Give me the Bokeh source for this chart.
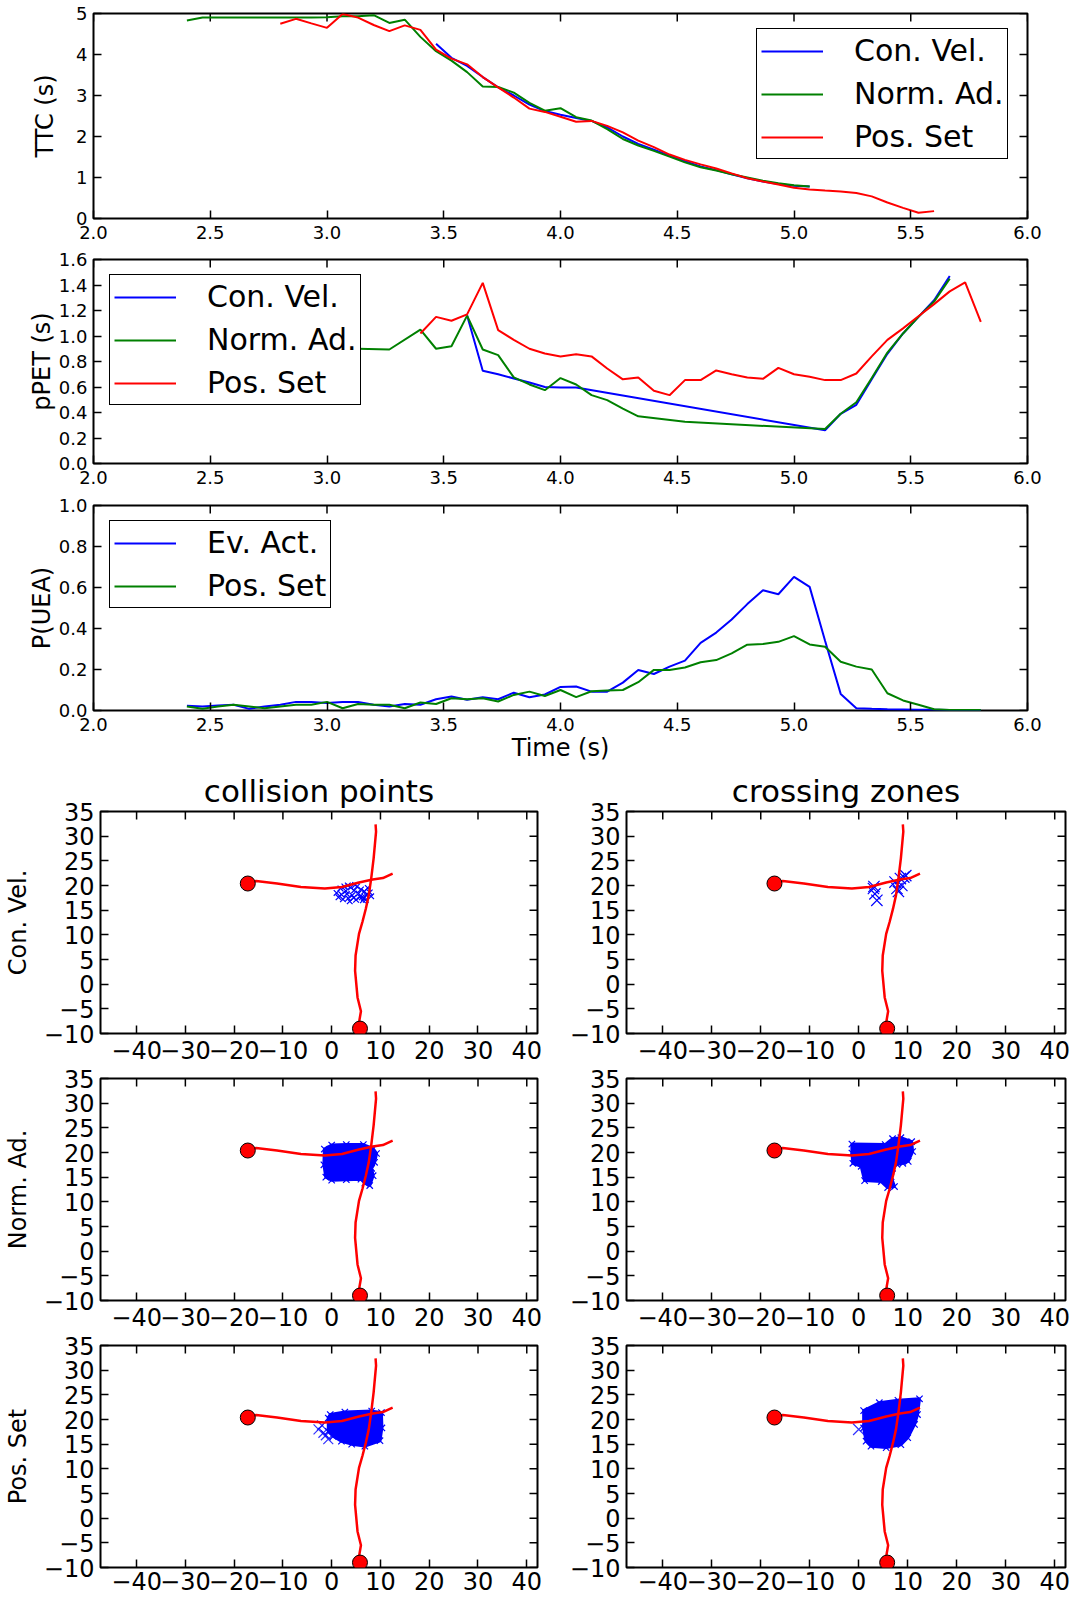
import math
from bokeh.plotting import figure
from bokeh.layouts import column, row
from bokeh.models import FixedTicker, Legend, LegendItem, Range1d
from bokeh.embed import file_html
from bokeh.resources import INLINE

FONT = "DejaVu Sans"
BLUE, GREEN, RED = "#0000ff", "#008000", "#ff0000"

# ---------------- data: TTC ----------------
ttc_t_norm = [2.4, 2.467, 2.533, 2.6, 2.667, 2.733, 2.8, 2.867, 2.933, 3.0, 3.067, 3.133, 3.2, 3.267,
              3.333, 3.4, 3.467, 3.533, 3.6, 3.667, 3.733, 3.8, 3.867, 3.933, 4.0, 4.067, 4.133, 4.2,
              4.267, 4.333, 4.4, 4.467, 4.533, 4.6, 4.667, 4.733, 4.8, 4.867, 4.933, 5.0, 5.067]
ttc_norm = [4.83, 4.90, 4.90, 4.90, 4.90, 4.90, 4.90, 4.90, 4.90, 4.91, 4.93, 4.93, 4.96, 4.77, 4.85,
            4.43, 4.08, 3.85, 3.57, 3.22, 3.21, 3.07, 2.82, 2.63, 2.69, 2.47, 2.39, 2.18, 1.94, 1.78,
            1.65, 1.51, 1.37, 1.25, 1.17, 1.08, 1.0, 0.92, 0.86, 0.81, 0.78]
ttc_t_con = [3.467, 3.533, 3.6, 3.667, 3.733, 3.8, 3.867, 3.933, 4.0, 4.067, 4.133, 4.2, 4.267, 4.333,
             4.4, 4.467, 4.533, 4.6, 4.667, 4.733, 4.8, 4.867, 4.933, 5.0, 5.067]
ttc_con = [4.26, 3.92, 3.72, 3.45, 3.2, 3.0, 2.78, 2.62, 2.53, 2.45, 2.38, 2.22, 2.0, 1.82, 1.68, 1.53,
           1.4, 1.27, 1.18, 1.08, 0.98, 0.9, 0.84, 0.8, 0.78]
ttc_t_pos = [2.8, 2.867, 2.933, 3.0, 3.067, 3.133, 3.2, 3.267, 3.333, 3.4, 3.467, 3.533, 3.6, 3.667,
             3.733, 3.8, 3.867, 3.933, 4.0, 4.067, 4.133, 4.2, 4.267, 4.333, 4.4, 4.467, 4.533, 4.6,
             4.667, 4.733, 4.8, 4.867, 4.933, 5.0, 5.067, 5.133, 5.2, 5.267, 5.333, 5.4, 5.467, 5.533, 5.6]
ttc_pos = [4.75, 4.87, 4.76, 4.65, 4.99, 4.9, 4.72, 4.57, 4.71, 4.6, 4.12, 3.9, 3.76, 3.45, 3.2, 2.95,
           2.68, 2.6, 2.48, 2.36, 2.38, 2.26, 2.1, 1.9, 1.74, 1.56, 1.43, 1.32, 1.22, 1.1, 0.98, 0.9,
           0.83, 0.75, 0.71, 0.68, 0.66, 0.62, 0.54, 0.39, 0.26, 0.14, 0.18]

# ---------------- data: pPET ----------------
pet_t_con = [3.6, 3.667, 3.733, 3.8, 3.867, 3.933, 4.0, 4.067, 5.133, 5.2, 5.267, 5.333, 5.4, 5.467,
             5.533, 5.6, 5.667]
pet_con = [1.16, 0.727, 0.70, 0.667, 0.635, 0.60, 0.596, 0.596, 0.26, 0.39, 0.46, 0.66, 0.86, 1.02,
           1.15, 1.28, 1.47]
pet_t_norm = [3.133, 3.267, 3.4, 3.467, 3.533, 3.6, 3.667, 3.733, 3.8, 3.867, 3.933, 4.0, 4.067, 4.133,
              4.2, 4.267, 4.333, 4.533, 5.133, 5.2, 5.267, 5.333, 5.4, 5.467, 5.533, 5.6, 5.667]
pet_norm = [0.90, 0.894, 1.05, 0.90, 0.92, 1.16, 0.894, 0.85, 0.675, 0.62, 0.575, 0.67, 0.62, 0.536,
            0.497, 0.43, 0.37, 0.327, 0.27, 0.39, 0.48, 0.67, 0.87, 1.02, 1.15, 1.27, 1.45]
pet_t_pos = [3.4, 3.467, 3.533, 3.6, 3.667, 3.733, 3.8, 3.867, 3.933, 4.0, 4.067, 4.133, 4.2, 4.267,
             4.333, 4.4, 4.467, 4.533, 4.6, 4.667, 4.733, 4.8, 4.867, 4.933, 5.0, 5.067, 5.133, 5.2,
             5.267, 5.333, 5.4, 5.467, 5.533, 5.6, 5.667, 5.733, 5.8]
pet_pos = [1.02, 1.15, 1.12, 1.17, 1.417, 1.046, 0.97, 0.90, 0.863, 0.84, 0.857, 0.84, 0.745, 0.66,
           0.675, 0.57, 0.536, 0.654, 0.654, 0.73, 0.70, 0.675, 0.664, 0.75, 0.70, 0.68, 0.654, 0.654,
           0.706, 0.84, 0.97, 1.06, 1.155, 1.25, 1.35, 1.42, 1.11]

# ---------------- data: P(UEA) ----------------
uea_t = [2.4, 2.467, 2.533, 2.6, 2.667, 2.733, 2.8, 2.867, 2.933, 3.0, 3.067, 3.133, 3.2, 3.267, 3.333,
         3.4, 3.467, 3.533, 3.6, 3.667, 3.733, 3.8, 3.867, 3.933, 4.0, 4.067, 4.133, 4.2, 4.267, 4.333,
         4.4, 4.467, 4.533, 4.6, 4.667, 4.733, 4.8, 4.867, 4.933, 5.0, 5.067, 5.133, 5.2, 5.267, 5.333,
         5.4, 5.467, 5.533, 5.6, 5.667, 5.733, 5.8]
uea_ev = [0.023, 0.02, 0.025, 0.028, 0.008, 0.02, 0.028, 0.042, 0.042, 0.036,
          0.042, 0.042, 0.028, 0.02, 0.032, 0.028, 0.055, 0.068, 0.052, 0.065,
          0.055, 0.087, 0.065, 0.078, 0.115, 0.117, 0.092, 0.092, 0.136, 0.198,
          0.178, 0.214, 0.243, 0.33, 0.38, 0.444, 0.519, 0.587, 0.567, 0.652,
          0.603, 0.34, 0.081, 0.011, 0.008, 0.006, 0.005, 0.004, 0.004, 0.003, 0.003, 0.003]
uea_pos = [0.02, 0.008, 0.02, 0.028, 0.02, 0.011, 0.02, 0.028, 0.028, 0.042,
           0.011, 0.032, 0.028, 0.028, 0.011, 0.039, 0.032, 0.06, 0.055, 0.06,
           0.044, 0.076, 0.092, 0.071, 0.1, 0.065, 0.094, 0.097, 0.1, 0.138,
           0.198, 0.198, 0.21, 0.235, 0.246, 0.279, 0.321, 0.324, 0.335, 0.363,
           0.322, 0.311, 0.238, 0.214, 0.2, 0.084, 0.049, 0.028, 0.006, 0.003, 0.003, 0.003]

time_ticks = [2.0, 2.5, 3.0, 3.5, 4.0, 4.5, 5.0, 5.5, 6.0]
time_labels = ["2.0", "2.5", "3.0", "3.5", "4.0", "4.5", "5.0", "5.5", "6.0"]
ttc_ticks = [0, 1, 2, 3, 4, 5]
ttc_labels = ["0", "1", "2", "3", "4", "5"]
pet_ticks = [0.0, 0.2, 0.4, 0.6, 0.8, 1.0, 1.2, 1.4, 1.6]
pet_labels = ["0.0", "0.2", "0.4", "0.6", "0.8", "1.0", "1.2", "1.4", "1.6"]
uea_ticks = [0.0, 0.2, 0.4, 0.6, 0.8, 1.0]
uea_labels = ["0.0", "0.2", "0.4", "0.6", "0.8", "1.0"]

# ---------------- data: scene panels ----------------
traj1_x = [-17.2, -15.5, -11.2, -6.3, -1.4, 2.1, 5.6, 8.4, 10.5, 12.5]
traj1_y = [20.4, 20.9, 20.4, 19.7, 19.4, 19.7, 20.6, 21.2, 21.5, 22.4]
traj2_x = [5.8, 5.6, 6.0, 5.3, 4.8, 4.9, 5.6, 6.3, 7.0, 7.6, 8.1, 8.6, 9.1, 9.0]
traj2_y = [-9.0, -7.8, -5.5, -2.7, 2.7, 5.8, 10.2, 12.6, 15.3, 18.0, 21.4, 25.5, 30.9, 32.4]
start_x = [-17.2, 5.8]
start_y = [20.4, -9.0]

cv_col_x = [1.0, 1.8, 2.6, 3.1, 3.9, 4.6, 5.2, 6.0, 6.7, 7.4, 8.1, 1.4, 2.3, 3.4, 4.2, 5.0, 5.8, 6.4,
            7.1, 7.8, 2.0, 2.9, 3.7, 4.5, 5.5, 6.2, 7.0, 3.3, 4.8, 6.6]
cv_col_y = [18.5, 19.4, 19.8, 18.3, 19.6, 19.0, 19.8, 19.2, 18.8, 19.5, 17.8, 17.6, 17.2, 17.4, 18.0,
            17.1, 17.7, 17.0, 18.1, 18.6, 18.2, 18.9, 16.8, 17.5, 18.4, 17.6, 17.1, 20.0, 20.1, 17.4]
cv_cz_x = [3.0, 3.3, 3.7, 3.1, 7.4, 7.8, 8.5, 8.8, 9.2, 8.1, 9.6]
cv_cz_y = [19.4, 18.3, 17.0, 19.8, 20.7, 19.4, 21.4, 20.0, 21.7, 18.8, 22.0]

na_col_x = [-1.5, 0.0, 3.0, 6.5, 8.5, 9.2, 8.8, 8.2, 8.5, 7.8, 6.8, 6.0, 3.0, 0.0, -1.2, -1.6]
na_col_y = [20.7, 21.5, 21.6, 21.6, 20.8, 19.8, 18.0, 16.8, 15.3, 13.3, 13.8, 14.6, 14.5, 14.4, 15.0, 17.5]
na_cz_x = [-1.4, 5.4, 6.9, 8.6, 10.8, 11.0, 10.1, 9.0, 7.8, 6.9, 6.6, 7.3, 5.9, 4.6, 1.2, 0.5, -1.2, -1.4]
na_cz_y = [21.7, 21.6, 22.8, 23.0, 22.2, 20.2, 18.2, 17.8, 17.6, 16.8, 15.1, 13.1, 12.9, 14.1, 14.3, 17.2,
           17.8, 19.9]

ps_col_x = [-0.3, 2.7, 8.2, 10.2, 10.3, 9.9, 6.8, 4.1, 2.0, 0.3, -0.7, -0.7]
ps_col_y = [21.0, 21.5, 21.7, 21.4, 18.3, 15.7, 14.6, 15.0, 15.6, 16.6, 17.6, 20.3]
ps_col_out_x = [-2.7, -1.7, -0.7, -2.0, -1.2]
ps_col_out_y = [18.0, 17.3, 16.0, 18.8, 16.8]
ps_cz_x = [1.0, 4.2, 8.0, 12.4, 12.0, 11.4, 10.0, 8.6, 5.6, 2.5, 1.5, 1.0]
ps_cz_y = [21.8, 23.4, 23.9, 24.2, 21.0, 19.0, 16.3, 14.9, 14.3, 14.6, 15.6, 18.3]
ps_cz_out_x = [0.0]
ps_cz_out_y = [18.0]

xy_ticks_x = [-40, -30, -20, -10, 0, 10, 20, 30, 40]
xy_labels_x = ["\u221240", "\u221230", "\u221220", "\u221210", "0", "10", "20", "30", "40"]
xy_ticks_y = [-10, -5, 0, 5, 10, 15, 20, 25, 30, 35]
xy_labels_y = ["\u221210", "\u22125", "0", "5", "10", "15", "20", "25", "30", "35"]


def style(p, xt, xl, yt, yl, fs, xr, yr):
    p.grid.visible = False
    p.background_fill_color = "white"
    p.border_fill_color = "white"
    p.outline_line_color = "black"
    p.outline_line_width = 2
    p.outline_line_alpha = 1.0
    xa, ya = p.below[0], p.left[0]
    for ax, t, l in ((xa, xt, xl), (ya, yt, yl)):
        ax.ticker = FixedTicker(ticks=t)
        ax.major_label_overrides = {k: v for k, v in zip(t, l)}
        ax.major_label_text_font = FONT
        ax.major_label_text_font_size = fs
        ax.major_label_text_color = "black"
        ax.axis_line_color = None
        ax.major_tick_in = 8
        ax.major_tick_out = 0
        ax.major_tick_line_width = 1.5
        ax.major_tick_line_color = "black"
        ax.minor_tick_line_color = None
        ax.major_label_standoff = 6
        ax.axis_label_text_font = FONT
        ax.axis_label_text_font_style = "normal"
        ax.axis_label_text_color = "black"
    # mirrored tick marks on the top and right edges of the frame
    p.ray(x=xt, y=[yr[1]] * len(xt), length=8, length_units="screen", angle=-math.pi / 2,
          line_color="black", line_width=1.5)
    p.ray(x=[xr[1]] * len(yt), y=yt, length=8, length_units="screen", angle=math.pi,
          line_color="black", line_width=1.5)
    return xa, ya


def ts_fig(height, top, bottom, yr, yt, yl, ylabel, label_standoff):
    xr = (2.0, 6.0)
    p = figure(width=1071, height=height, output_backend="svg", toolbar_location=None,
               x_range=Range1d(*xr), y_range=Range1d(*yr),
               min_border_left=93, min_border_right=44, min_border_top=top, min_border_bottom=bottom)
    xa, ya = style(p, time_ticks, time_labels, yt, yl, "18px", xr, yr)
    xa.major_label_standoff = 7
    ya.axis_label = ylabel
    ya.axis_label_text_font_size = "24px"
    ya.axis_label_standoff = label_standoff
    return p, xa, ya


def add_legend(p, items, loc):
    lg = Legend(items=[LegendItem(label=l, renderers=[r]) for l, r in items], location=loc,
                label_text_font=FONT, label_text_font_size="30px", label_text_color="black",
                glyph_width=62, glyph_height=34, label_height=34, label_standoff=31, spacing=8,
                padding=4, border_line_color="black", border_line_width=1.5, border_line_alpha=1.0,
                background_fill_color="white", background_fill_alpha=1.0, margin=0)
    p.add_layout(lg)


# TTC
p1, _, _ = ts_fig(247, 13, 29, (0, 5), ttc_ticks, ttc_labels, "TTC (s)", 14)
r1b = p1.line(ttc_t_con, ttc_con, line_color=BLUE, line_width=2)
r1g = p1.line(ttc_t_norm, ttc_norm, line_color=GREEN, line_width=2)
r1r = p1.line(ttc_t_pos, ttc_pos, line_color=RED, line_width=2)
add_legend(p1, [("Con. Vel.", r1b), ("Norm. Ad.", r1g), ("Pos. Set", r1r)], (663, 59))

# pPET
p2, _, _ = ts_fig(246, 12, 30, (0, 1.6), pet_ticks, pet_labels, "pPET (s)", 0)
r2b = p2.line(pet_t_con, pet_con, line_color=BLUE, line_width=2)
r2g = p2.line(pet_t_norm, pet_norm, line_color=GREEN, line_width=2)
r2r = p2.line(pet_t_pos, pet_pos, line_color=RED, line_width=2)
add_legend(p2, [("Con. Vel.", r2b), ("Norm. Ad.", r2g), ("Pos. Set", r2r)], (16, 58))

# P(UEA)
p3, xa3, _ = ts_fig(273, 12, 56, (0, 1.0), uea_ticks, uea_labels, "P(UEA)", 0)
r3b = p3.line(uea_t, uea_ev, line_color=BLUE, line_width=2)
r3g = p3.line(uea_t, uea_pos, line_color=GREEN, line_width=2)
xa3.axis_label = "Time (s)"
xa3.axis_label_text_font_size = "24px"
xa3.axis_label_standoff = 0
add_legend(p3, [("Ev. Act.", r3b), ("Pos. Set", r3g)], (16, 102))

SX = (-47.4, 42.2)
SY = (-10, 35)


def scene_fig(left, top, bottom, height, title=None, ylabel=None, xstand=7,
              cloud=None, marks=None, mark_size=8, outliers=None, out_size=14):
    if left:
        w, lb, rb = 557, 98, 20
    else:
        w, lb, rb = 514, 69, 6
    p = figure(width=w, height=height, output_backend="svg", toolbar_location=None,
               x_range=Range1d(*SX), y_range=Range1d(*SY),
               min_border_left=lb, min_border_right=rb, min_border_top=top, min_border_bottom=bottom)
    xa, ya = style(p, xy_ticks_x, xy_labels_x, xy_ticks_y, xy_labels_y, "24px", SX, SY)
    xa.major_label_standoff = xstand
    if title:
        p.title.text = title
        p.title.align = "center"
        p.title.text_font = FONT
        p.title.text_font_size = "31px"
        p.title.text_font_style = "normal"
        p.title.text_color = "black"
        p.title.standoff = 6
    if ylabel:
        ya.axis_label = ylabel
        ya.axis_label_text_font_size = "24px"
        ya.axis_label_standoff = 9
    if cloud is not None:
        p.patch(cloud[0], cloud[1], fill_color=BLUE, line_color=BLUE, line_width=3)
        p.scatter(cloud[0], cloud[1], marker="x", size=mark_size, line_color=BLUE, line_width=1.2)
    if marks is not None:
        p.scatter(marks[0], marks[1], marker="x", size=mark_size, line_color=BLUE, line_width=1.2)
    if outliers is not None:
        p.scatter(outliers[0], outliers[1], marker="x", size=out_size, line_color=BLUE,
                  line_width=1.2, line_alpha=0.8)
    p.line(traj1_x, traj1_y, line_color=RED, line_width=2.5)
    p.line(traj2_x, traj2_y, line_color=RED, line_width=2.5)
    p.scatter(start_x, start_y, marker="circle", size=15, fill_color=RED, line_color="black",
              line_width=1)
    return p


s11 = scene_fig(True, 45, 31, 298, title="collision points", ylabel="Con. Vel.",
                marks=(cv_col_x, cv_col_y), mark_size=8)
s12 = scene_fig(False, 45, 31, 298, title="crossing zones",
                marks=(cv_cz_x, cv_cz_y), mark_size=16)
s21 = scene_fig(True, 14, 31, 267, ylabel="Norm. Ad.", cloud=(na_col_x, na_col_y), mark_size=9)
s22 = scene_fig(False, 14, 31, 267, cloud=(na_cz_x, na_cz_y), mark_size=9)
s31 = scene_fig(True, 14, 32, 268, ylabel="Pos. Set", xstand=4, cloud=(ps_col_x, ps_col_y),
                mark_size=9, outliers=(ps_col_out_x, ps_col_out_y), out_size=14)
s32 = scene_fig(False, 14, 32, 268, xstand=4, cloud=(ps_cz_x, ps_cz_y), mark_size=9,
                outliers=(ps_cz_out_x, ps_cz_out_y), out_size=16)

layout = column(p1, p2, p3, row(s11, s12), row(s21, s22), row(s31, s32))
open("out.html", "w").write(file_html(layout, INLINE))
